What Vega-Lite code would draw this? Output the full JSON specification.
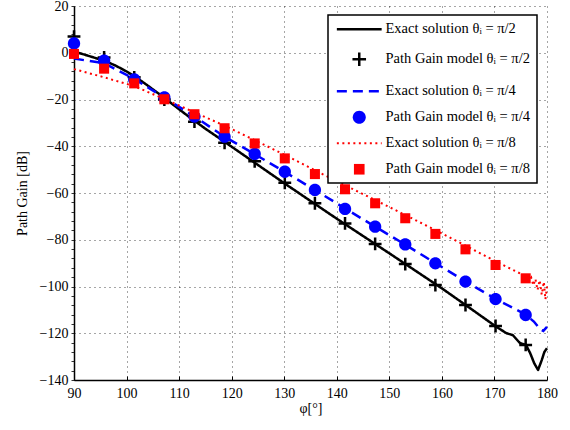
{
  "$schema": "https://vega.github.io/schema/vega-lite/v6.json",
  "width": 473,
  "height": 374,
  "autosize": {"type": "none"},
  "padding": {"left": 74, "top": 6, "right": 23, "bottom": 50},
  "background": "white",
  "config": {"view": {"stroke": null}, "font": "Liberation Serif", "legend": {"labelFont": "Liberation Serif, DejaVu Serif, serif"}},
  "datasets": {
    "d": [
      {"s": "Exact solution θᵢ = π/2", "phi": 90, "gain": 0.5},
      {"s": "Exact solution θᵢ = π/2", "phi": 92, "gain": -0.8},
      {"s": "Exact solution θᵢ = π/2", "phi": 94, "gain": -2.2},
      {"s": "Exact solution θᵢ = π/2", "phi": 96, "gain": -3.6},
      {"s": "Exact solution θᵢ = π/2", "phi": 98, "gain": -5.6},
      {"s": "Exact solution θᵢ = π/2", "phi": 100, "gain": -8},
      {"s": "Exact solution θᵢ = π/2", "phi": 102, "gain": -10.8},
      {"s": "Exact solution θᵢ = π/2", "phi": 104, "gain": -14},
      {"s": "Exact solution θᵢ = π/2", "phi": 106, "gain": -17.3},
      {"s": "Exact solution θᵢ = π/2", "phi": 108, "gain": -20.7},
      {"s": "Exact solution θᵢ = π/2", "phi": 110, "gain": -24.2},
      {"s": "Exact solution θᵢ = π/2", "phi": 112, "gain": -27.6},
      {"s": "Exact solution θᵢ = π/2", "phi": 115, "gain": -32.5},
      {"s": "Exact solution θᵢ = π/2", "phi": 120, "gain": -40.2},
      {"s": "Exact solution θᵢ = π/2", "phi": 125, "gain": -48},
      {"s": "Exact solution θᵢ = π/2", "phi": 130, "gain": -55.8},
      {"s": "Exact solution θᵢ = π/2", "phi": 135, "gain": -63.4},
      {"s": "Exact solution θᵢ = π/2", "phi": 140, "gain": -71},
      {"s": "Exact solution θᵢ = π/2", "phi": 145, "gain": -78.4},
      {"s": "Exact solution θᵢ = π/2", "phi": 150, "gain": -85.8},
      {"s": "Exact solution θᵢ = π/2", "phi": 155, "gain": -93.3},
      {"s": "Exact solution θᵢ = π/2", "phi": 160, "gain": -100.8},
      {"s": "Exact solution θᵢ = π/2", "phi": 164.5, "gain": -107.9},
      {"s": "Exact solution θᵢ = π/2", "phi": 170.2, "gain": -117},
      {"s": "Exact solution θᵢ = π/2", "phi": 172.3, "gain": -120},
      {"s": "Exact solution θᵢ = π/2", "phi": 173.5, "gain": -120.8},
      {"s": "Exact solution θᵢ = π/2", "phi": 174.85, "gain": -124.2},
      {"s": "Exact solution θᵢ = π/2", "phi": 176, "gain": -125},
      {"s": "Exact solution θᵢ = π/2", "phi": 176.8, "gain": -128.5},
      {"s": "Exact solution θᵢ = π/2", "phi": 177.6, "gain": -133},
      {"s": "Exact solution θᵢ = π/2", "phi": 178.3, "gain": -135.7},
      {"s": "Exact solution θᵢ = π/2", "phi": 179, "gain": -131.5},
      {"s": "Exact solution θᵢ = π/2", "phi": 179.5, "gain": -128},
      {"s": "Exact solution θᵢ = π/2", "phi": 180, "gain": -126.4},

      {"s": "Path Gain model θᵢ = π/2", "phi": 90, "gain": 6.9},
      {"s": "Path Gain model θᵢ = π/2", "phi": 95.73, "gain": -2.0},
      {"s": "Path Gain model θᵢ = π/2", "phi": 101.46, "gain": -10.5},
      {"s": "Path Gain model θᵢ = π/2", "phi": 107.19, "gain": -20.0},
      {"s": "Path Gain model θᵢ = π/2", "phi": 112.92, "gain": -29.5},
      {"s": "Path Gain model θᵢ = π/2", "phi": 118.65, "gain": -38.5},
      {"s": "Path Gain model θᵢ = π/2", "phi": 124.38, "gain": -46.4},
      {"s": "Path Gain model θᵢ = π/2", "phi": 130.11, "gain": -55.6},
      {"s": "Path Gain model θᵢ = π/2", "phi": 135.84, "gain": -64.4},
      {"s": "Path Gain model θᵢ = π/2", "phi": 141.57, "gain": -73.0},
      {"s": "Path Gain model θᵢ = π/2", "phi": 147.3, "gain": -81.8},
      {"s": "Path Gain model θᵢ = π/2", "phi": 153.03, "gain": -90.4},
      {"s": "Path Gain model θᵢ = π/2", "phi": 158.76, "gain": -99.4},
      {"s": "Path Gain model θᵢ = π/2", "phi": 164.49, "gain": -107.9},
      {"s": "Path Gain model θᵢ = π/2", "phi": 170.21, "gain": -116.9},
      {"s": "Path Gain model θᵢ = π/2", "phi": 175.94, "gain": -125.0},

      {"s": "Exact solution θᵢ = π/4", "phi": 90, "gain": -2.5},
      {"s": "Exact solution θᵢ = π/4", "phi": 95.73, "gain": -4.5},
      {"s": "Exact solution θᵢ = π/4", "phi": 101.46, "gain": -11.2},
      {"s": "Exact solution θᵢ = π/4", "phi": 107.19, "gain": -19.2},
      {"s": "Exact solution θᵢ = π/4", "phi": 112.92, "gain": -27.3},
      {"s": "Exact solution θᵢ = π/4", "phi": 118.65, "gain": -35.9},
      {"s": "Exact solution θᵢ = π/4", "phi": 124.38, "gain": -43.4},
      {"s": "Exact solution θᵢ = π/4", "phi": 130.11, "gain": -51.0},
      {"s": "Exact solution θᵢ = π/4", "phi": 135.84, "gain": -58.7},
      {"s": "Exact solution θᵢ = π/4", "phi": 141.57, "gain": -66.6},
      {"s": "Exact solution θᵢ = π/4", "phi": 147.3, "gain": -74.4},
      {"s": "Exact solution θᵢ = π/4", "phi": 153.03, "gain": -82.1},
      {"s": "Exact solution θᵢ = π/4", "phi": 158.76, "gain": -90.0},
      {"s": "Exact solution θᵢ = π/4", "phi": 164.49, "gain": -97.8},
      {"s": "Exact solution θᵢ = π/4", "phi": 170.21, "gain": -105.3},
      {"s": "Exact solution θᵢ = π/4", "phi": 175.94, "gain": -112.0},
      {"s": "Exact solution θᵢ = π/4", "phi": 177.5, "gain": -115},
      {"s": "Exact solution θᵢ = π/4", "phi": 178.7, "gain": -118.3},
      {"s": "Exact solution θᵢ = π/4", "phi": 179.3, "gain": -119},
      {"s": "Exact solution θᵢ = π/4", "phi": 180, "gain": -117.3},

      {"s": "Path Gain model θᵢ = π/4", "phi": 90, "gain": 4.0},
      {"s": "Path Gain model θᵢ = π/4", "phi": 95.73, "gain": -3.4},
      {"s": "Path Gain model θᵢ = π/4", "phi": 101.46, "gain": -11.4},
      {"s": "Path Gain model θᵢ = π/4", "phi": 107.19, "gain": -19.1},
      {"s": "Path Gain model θᵢ = π/4", "phi": 112.92, "gain": -27.3},
      {"s": "Path Gain model θᵢ = π/4", "phi": 118.65, "gain": -35.9},
      {"s": "Path Gain model θᵢ = π/4", "phi": 124.38, "gain": -43.3},
      {"s": "Path Gain model θᵢ = π/4", "phi": 130.11, "gain": -50.9},
      {"s": "Path Gain model θᵢ = π/4", "phi": 135.84, "gain": -58.7},
      {"s": "Path Gain model θᵢ = π/4", "phi": 141.57, "gain": -66.8},
      {"s": "Path Gain model θᵢ = π/4", "phi": 147.3, "gain": -74.4},
      {"s": "Path Gain model θᵢ = π/4", "phi": 153.03, "gain": -82.0},
      {"s": "Path Gain model θᵢ = π/4", "phi": 158.76, "gain": -90.1},
      {"s": "Path Gain model θᵢ = π/4", "phi": 164.49, "gain": -97.9},
      {"s": "Path Gain model θᵢ = π/4", "phi": 170.21, "gain": -105.4},
      {"s": "Path Gain model θᵢ = π/4", "phi": 175.94, "gain": -112.2},

      {"s": "Exact solution θᵢ = π/8", "phi": 90, "gain": -7},
      {"s": "Exact solution θᵢ = π/8", "phi": 95.73, "gain": -10.5},
      {"s": "Exact solution θᵢ = π/8", "phi": 101.46, "gain": -14.3},
      {"s": "Exact solution θᵢ = π/8", "phi": 107.19, "gain": -19.8},
      {"s": "Exact solution θᵢ = π/8", "phi": 112.92, "gain": -25.5},
      {"s": "Exact solution θᵢ = π/8", "phi": 118.65, "gain": -31.2},
      {"s": "Exact solution θᵢ = π/8", "phi": 124.38, "gain": -37.4},
      {"s": "Exact solution θᵢ = π/8", "phi": 130.11, "gain": -43.7},
      {"s": "Exact solution θᵢ = π/8", "phi": 135.84, "gain": -50.3},
      {"s": "Exact solution θᵢ = π/8", "phi": 141.57, "gain": -56.7},
      {"s": "Exact solution θᵢ = π/8", "phi": 147.3, "gain": -63},
      {"s": "Exact solution θᵢ = π/8", "phi": 153.03, "gain": -69.4},
      {"s": "Exact solution θᵢ = π/8", "phi": 158.76, "gain": -75.9},
      {"s": "Exact solution θᵢ = π/8", "phi": 164.49, "gain": -82.5},
      {"s": "Exact solution θᵢ = π/8", "phi": 170.21, "gain": -89.2},
      {"s": "Exact solution θᵢ = π/8", "phi": 175.94, "gain": -95.6},
      {"s": "Exact solution θᵢ = π/8", "phi": 176.6, "gain": -97.5},
      {"s": "Exact solution θᵢ = π/8", "phi": 177, "gain": -96.2},
      {"s": "Exact solution θᵢ = π/8", "phi": 177.4, "gain": -99.5},
      {"s": "Exact solution θᵢ = π/8", "phi": 177.8, "gain": -96.8},
      {"s": "Exact solution θᵢ = π/8", "phi": 178.2, "gain": -101.5},
      {"s": "Exact solution θᵢ = π/8", "phi": 178.6, "gain": -97.3},
      {"s": "Exact solution θᵢ = π/8", "phi": 179, "gain": -103.5},
      {"s": "Exact solution θᵢ = π/8", "phi": 179.4, "gain": -98},
      {"s": "Exact solution θᵢ = π/8", "phi": 179.7, "gain": -105.5},
      {"s": "Exact solution θᵢ = π/8", "phi": 180, "gain": -100},

      {"s": "Path Gain model θᵢ = π/8", "phi": 90, "gain": -0.5},
      {"s": "Path Gain model θᵢ = π/8", "phi": 95.73, "gain": -6.8},
      {"s": "Path Gain model θᵢ = π/8", "phi": 101.46, "gain": -13.1},
      {"s": "Path Gain model θᵢ = π/8", "phi": 107.19, "gain": -19.9},
      {"s": "Path Gain model θᵢ = π/8", "phi": 112.92, "gain": -26.3},
      {"s": "Path Gain model θᵢ = π/8", "phi": 118.65, "gain": -32.3},
      {"s": "Path Gain model θᵢ = π/8", "phi": 124.38, "gain": -38.8},
      {"s": "Path Gain model θᵢ = π/8", "phi": 130.11, "gain": -45.2},
      {"s": "Path Gain model θᵢ = π/8", "phi": 135.84, "gain": -51.9},
      {"s": "Path Gain model θᵢ = π/8", "phi": 141.57, "gain": -58.4},
      {"s": "Path Gain model θᵢ = π/8", "phi": 147.3, "gain": -64.4},
      {"s": "Path Gain model θᵢ = π/8", "phi": 153.03, "gain": -70.8},
      {"s": "Path Gain model θᵢ = π/8", "phi": 158.76, "gain": -77.5},
      {"s": "Path Gain model θᵢ = π/8", "phi": 164.49, "gain": -84.1},
      {"s": "Path Gain model θᵢ = π/8", "phi": 170.21, "gain": -90.8},
      {"s": "Path Gain model θᵢ = π/8", "phi": 175.94, "gain": -96.5}
    ]
  },
  "data": {"name": "d"},
  "encoding": {
    "x": {
      "field": "phi", "type": "quantitative",
      "scale": {"domain": [90, 180], "nice": false, "zero": false},
      "axis": {
        "values": [90, 100, 110, 120, 130, 140, 150, 160, 170, 180],
        "title": "φ[°]",
        "titleFont": "Liberation Serif", "titleFontSize": 14, "titleFontWeight": "normal", "titleColor": "black",
        "titleX": 236.5, "titleY": 28, "titleBaseline": "middle", "titleAlign": "center",
        "labelFont": "Liberation Serif", "labelFontSize": 14, "labelColor": "black", "labelPadding": 10,
        "labelFlush": false, "labelOverlap": false,
        "tickSize": -4, "tickColor": "black", "tickWidth": 1,
        "domainColor": "black", "domainWidth": 1.5,
        "grid": true, "gridColor": "#000000", "gridDash": [1, 4], "gridOpacity": 0.7, "gridWidth": 1
      }
    },
    "y": {
      "field": "gain", "type": "quantitative",
      "scale": {"domain": [-140, 20], "nice": false, "zero": false},
      "axis": {
        "values": [-140,-136,-132,-128,-124,-120,-116,-112,-108,-104,-100,-96,-92,-88,-84,-80,-76,-72,-68,-64,-60,-56,-52,-48,-44,-40,-36,-32,-28,-24,-20,-16,-12,-8,-4,0,4,8,12,16,20],
        "labelExpr": "datum.value % 20 === 0 ? datum.label : ''",
        "title": "Path Gain [dB]",
        "titleFont": "Liberation Serif", "titleFontSize": 14, "titleFontWeight": "normal", "titleColor": "black",
        "titleX": -52, "titleY": 187, "titleAngle": -90, "titleBaseline": "middle", "titleAlign": "center",
        "labelFont": "Liberation Serif", "labelFontSize": 14, "labelColor": "black", "labelPadding": 3,
        "labelFlush": false, "labelOverlap": false,
        "tickSize": 3, "tickColor": "black", "tickWidth": 0.8,
        "domainColor": "black", "domainWidth": 1.5,
        "grid": true, "gridColor": "#000000", "gridDash": [1, 4], "gridWidth": 1,
        "gridOpacity": {"condition": {"test": "datum.value % 20 === 0", "value": 0.7}, "value": 0}
      }
    },
    "color": {
      "field": "s", "type": "nominal",
      "scale": {
        "domain": ["Exact solution θᵢ = π/2", "Path Gain model θᵢ = π/2", "Exact solution θᵢ = π/4", "Path Gain model θᵢ = π/4", "Exact solution θᵢ = π/8", "Path Gain model θᵢ = π/8"],
        "range": ["#000000", "#000000", "#0000ff", "#0000ff", "#ff0000", "#ff0000"]
      },
      "legend": {
        "title": null, "orient": "none", "legendX": 254, "legendY": 9,
        "fillColor": "white", "strokeColor": "black", "padding": 7,
        "symbolSize": 196, "symbolStrokeWidth": 2.5, "symbolOffset": 17, "labelOffset": 19, "rowPadding": 11,
        "labelFont": "Liberation Serif", "labelFontSize": 14.5, "labelColor": "black", "labelLimit": 300,
        "encode": {
          "symbols": {
            "update": {
              "shape": {"scale": "shape", "field": "value"},
              "strokeDash": {"scale": "strokeDash", "field": "value"},
              "fill": {"scale": "color", "field": "value"},
              "stroke": {"scale": "color", "field": "value"},
              "strokeWidth": {"signal": "datum.index === 3 || datum.index === 5 ? 0 : (datum.index === 4 ? 2 : 2.5)"},
              "opacity": {"value": 1},
              "fillOpacity": {"value": 1},
              "strokeOpacity": {"value": 1}
            }
          },
          "labels": {"update": {"font": {"value": "Liberation Serif"}}},
          "legend": {"update": {"strokeWidth": {"value": 1.5}}}
        }
      }
    },
    "shape": {
      "field": "s", "type": "nominal",
      "scale": {
        "domain": ["Exact solution θᵢ = π/2", "Path Gain model θᵢ = π/2", "Exact solution θᵢ = π/4", "Path Gain model θᵢ = π/4", "Exact solution θᵢ = π/8", "Path Gain model θᵢ = π/8"],
        "range": ["M-3.2,0H3.2", "M-0.97,0H0.97M0,-0.97V0.97", "M-3.2,0H3.2", "M-0.93,0A0.93,0.93,0,1,0,0.93,0A0.93,0.93,0,1,0,-0.93,0Z", "M-3.2,0H3.2", "M-0.76,-0.76H0.76V0.76H-0.76Z"]
      },
      "legend": null
    },
    "strokeDash": {
      "field": "s", "type": "nominal",
      "scale": {
        "domain": ["Exact solution θᵢ = π/2", "Path Gain model θᵢ = π/2", "Exact solution θᵢ = π/4", "Path Gain model θᵢ = π/4", "Exact solution θᵢ = π/8", "Path Gain model θᵢ = π/8"],
        "range": [[1, 0], [1, 0], [10, 6], [1, 0], [2, 3.5], [1, 0]]
      },
      "legend": null
    }
  },
  "layer": [
    {"transform": [{"filter": {"field": "s", "equal": "Exact solution θᵢ = π/2"}}],
     "mark": {"type": "line", "strokeWidth": 2.5, "strokeCap": "butt", "strokeJoin": "round"}},
    {"transform": [{"filter": {"field": "s", "equal": "Path Gain model θᵢ = π/2"}}],
     "mark": {"type": "point", "filled": false, "size": 175, "strokeWidth": 2.5, "opacity": 1}},
    {"transform": [{"filter": {"field": "s", "equal": "Exact solution θᵢ = π/4"}}],
     "mark": {"type": "line", "strokeWidth": 2.5, "strokeCap": "butt"}},
    {"transform": [{"filter": {"field": "s", "equal": "Path Gain model θᵢ = π/4"}}],
     "mark": {"type": "point", "filled": true, "size": 175, "strokeWidth": 0, "opacity": 1}},
    {"transform": [{"filter": {"field": "s", "equal": "Exact solution θᵢ = π/8"}}],
     "mark": {"type": "line", "strokeWidth": 2, "strokeCap": "butt"}},
    {"transform": [{"filter": {"field": "s", "equal": "Path Gain model θᵢ = π/8"}}],
     "mark": {"type": "point", "filled": true, "size": 175, "strokeWidth": 0, "opacity": 1}}
  ]
}
